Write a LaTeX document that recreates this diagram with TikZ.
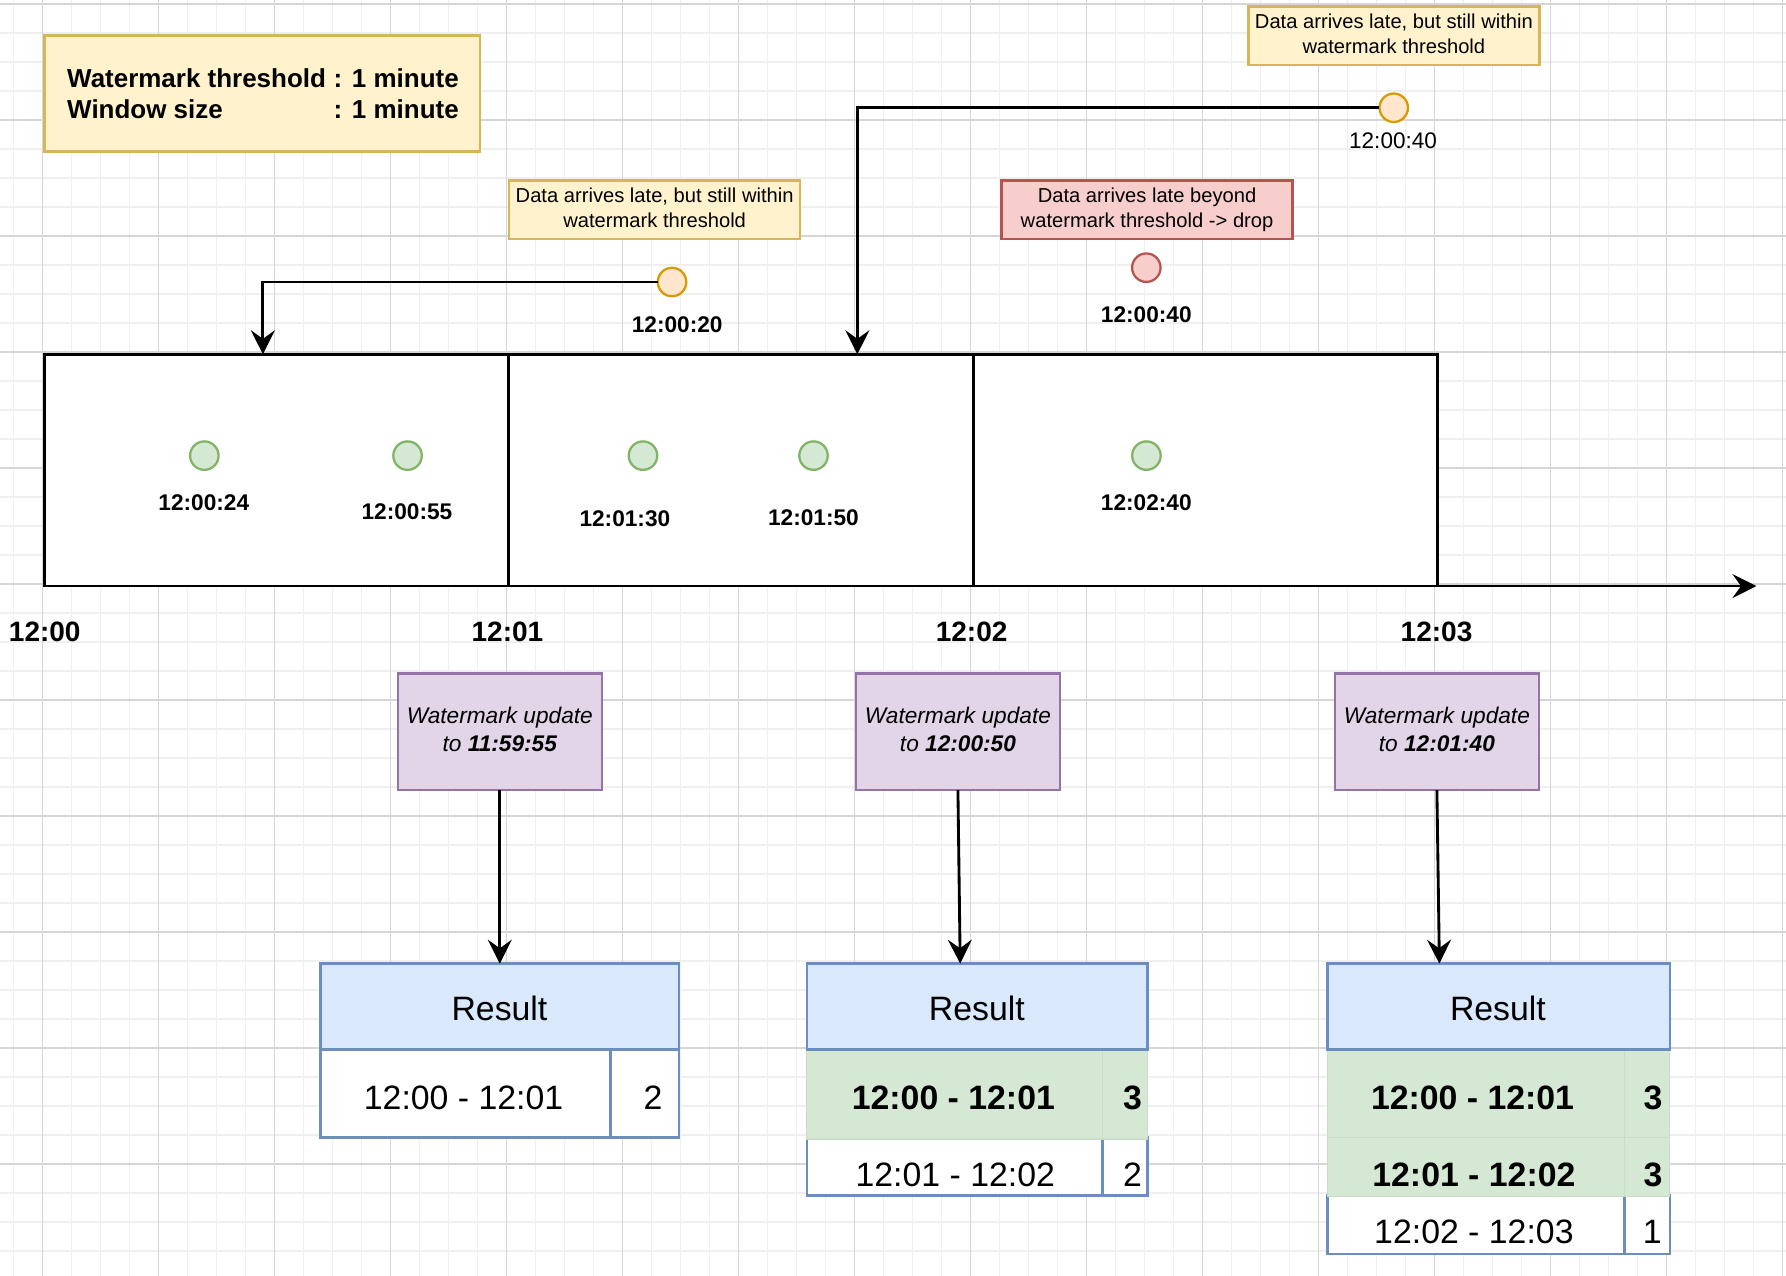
\documentclass[tikz,border=0pt]{standalone}
\usepackage{fontspec}
\setmainfont{Liberation Sans}
\usetikzlibrary{arrows.meta}
\definecolor{gridminor}{HTML}{EFEFEF}
\definecolor{gridmajor}{HTML}{D6D6D6}
\definecolor{yfill}{HTML}{FFF2CC}\definecolor{ystroke}{HTML}{D6B656}
\definecolor{rfill}{HTML}{F8CECC}\definecolor{rstroke}{HTML}{B85450}
\definecolor{ofill}{HTML}{FFE6CC}\definecolor{ostroke}{HTML}{D79B00}
\definecolor{gfill}{HTML}{D5E8D4}\definecolor{gstroke}{HTML}{82B366}
\definecolor{pfill}{HTML}{E1D5E7}\definecolor{pstroke}{HTML}{9673A6}
\definecolor{bfill}{HTML}{DAE8FC}\definecolor{bstroke}{HTML}{6C8EBF}
\definecolor{gline}{HTML}{C8DCC6}
\begin{document}
\begin{tikzpicture}[x=1pt,y=-1pt,
 shp/.style={draw, line width=2.2pt, inner sep=0pt, outer sep=0pt, anchor=north west},
 ybox/.style={shp, draw=ystroke, fill=yfill},
 rbox/.style={shp, draw=rstroke, fill=rfill},
 pbox/.style={shp, draw=pstroke, fill=pfill, align=center, minimum width=179pt, minimum height=102.3pt, font={\fontsize{19.9}{24.3}\selectfont\itshape}},
 callout/.style={align=center, minimum width=255.5pt, minimum height=51.5pt, font={\fontsize{17.7}{22}\selectfont}},
 wbox/.style={draw=black, line width=2.5pt, fill=white, inner sep=0pt, outer sep=0pt, anchor=north west, minimum height=203.5pt},
 dot/.style={circle, line width=2pt, minimum size=25pt, inner sep=0pt, outer sep=0pt},
 odot/.style={dot, draw=ostroke, fill=ofill},
 rdot/.style={dot, draw=rstroke, fill=rfill},
 gdot/.style={dot, draw=gstroke, fill=gfill},
 txt/.style={anchor=base, inner sep=0pt, outer sep=0pt},
 lblb/.style={txt, font={\fontsize{19.9}{24}\selectfont\bfseries}},
 lblr/.style={txt, font={\fontsize{19.8}{24}\selectfont}},
 axl/.style={txt, font={\fontsize{24.6}{30}\selectfont\bfseries}},
 wmt/.style={anchor=base west, inner sep=0pt, outer sep=0pt, font={\fontsize{22.8}{27}\selectfont\bfseries}},
 tcell/.style={shp, draw=bstroke, fill=white},
 thead/.style={shp, draw=bstroke, fill=bfill, minimum height=75.5pt},
 gcell/.style={draw=gline, line width=1pt, fill=gfill, inner sep=0pt, outer sep=0pt, anchor=north west},
 tt/.style={txt, font={\fontsize{29.7}{36}\selectfont}},
 ttb/.style={txt, font={\fontsize{29.7}{36}\selectfont\bfseries}},
 conn/.style={line width=2.5pt, -{Stealth[length=21pt,width=21pt,inset=7.5pt]}},
]
\useasboundingbox (0,0) rectangle (1568,1120);
\fill[white] (0,0) rectangle (1568,1120);
% grid
\foreach \k in {0,...,61}{\pgfmathsetmacro\xx{11.54+25.46*\k}\draw[gridminor, line width=1pt] (\xx,0) -- (\xx,1120);}
\foreach \k in {0,...,43}{\pgfmathsetmacro\yy{3.5+25.46*\k}\draw[gridminor, line width=1pt] (0,\yy) -- (1568,\yy);}
\foreach \k in {1,5,...,61}{\pgfmathsetmacro\xx{11.54+25.46*\k}\draw[gridmajor, line width=1pt] (\xx,0) -- (\xx,1120);}
\foreach \k in {0,4,...,40}{\pgfmathsetmacro\yy{3.5+25.46*\k}\draw[gridmajor, line width=1pt] (0,\yy) -- (1568,\yy);}

% legend box
\node[ybox, minimum width=382.5pt, minimum height=102pt] (wm) at (39,31) {};
\node[wmt] (wm1a) at (59,76.8) {Watermark threshold};
\node[wmt] (wm1b) at (293,76.8) {: 1 minute};
\node[wmt] (wm2a) at (59,104) {Window size};
\node[wmt] (wm2b) at (293,104) {: 1 minute};

% callouts
\node[ybox, callout] (cb1) at (447,158.5) {\strut Data arrives late, but still within\\\strut watermark threshold};
\node[ybox, callout] (cb2) at (1096,5.5) {\strut Data arrives late, but still within\\\strut watermark threshold};
\node[rbox, callout] (cb3) at (879.3,158.5) {\strut Data arrives late beyond\\\strut watermark threshold -> drop};

% windows
\node[wbox, minimum width=407.5pt] (win1) at (39,311) {};
\node[wbox, minimum width=407.8pt] (win2) at (446.5,311) {};
\node[wbox, minimum width=407.7pt] (win3) at (854.3,311) {};
\coordinate (axend) at (1542,514.5);
\draw[conn] (win1.south west) -- (axend);

% late events
\node[odot] (o1) at (590,247.6) {};
\node[lblb] (o1l) at (594.5,291.5) {12:00:20};
\node[odot] (o2) at (1223.6,94.6) {};
\node[lblr] (o2l) at (1223,130.4) {12:00:40};
\node[rdot] (rd) at (1006.4,235) {};
\node[lblb] (rdl) at (1006.4,282.7) {12:00:40};
\coordinate (in1) at (230.8,311);
\coordinate (in2) at (752.7,311);
\draw[conn] (o1.west) -| (in1);
\draw[conn] (o2.west) -| (in2);

% events in windows
\node[gdot] (g1) at (179.4,400) {};
\node[lblb] (g1l) at (178.9,448.5) {12:00:24};
\node[gdot] (g2) at (357.8,400) {};
\node[lblb] (g2l) at (357.3,456) {12:00:55};
\node[gdot] (g3) at (564.5,400) {};
\node[lblb] (g3l) at (548.6,462) {12:01:30};
\node[gdot] (g4) at (714.2,400) {};
\node[lblb] (g4l) at (714.2,461.4) {12:01:50};
\node[gdot] (g5) at (1006.5,400) {};
\node[lblb] (g5l) at (1006.4,448) {12:02:40};

% axis labels
\node[axl] (t0) at (39.3,563) {12:00};
\node[axl] (t1) at (445.5,563) {12:01};
\node[axl] (t2) at (853,563) {12:02};
\node[axl] (t3) at (1261.2,563) {12:03};

% watermark updates
\node[pbox] (pu1) at (349.3,591.3) {\strut Watermark update\\\strut to \textbf{11:59:55}};
\node[pbox] (pu2) at (751.5,591.3) {\strut Watermark update\\\strut to \textbf{12:00:50}};
\node[pbox] (pu3) at (1172,591.3) {\strut Watermark update\\\strut to \textbf{12:01:40}};

% result table 1
\node[tcell, minimum width=254.5pt, minimum height=77.1pt] (r1a) at (281.5,921.5) {};
\node[tcell, minimum width=60pt, minimum height=77.1pt] (r1b) at (536,921.5) {};
\node[thead, minimum width=314.5pt] (r1h) at (281.5,846) {};
\node[tt] (r1ht) at (438.5,896) {Result};
\node[tt] (r1at) at (407,974) {12:00 - 12:01};
\node[tt] (r1bt) at (573.4,974) {2};

% result table 2
\node[tcell, minimum width=259.6pt, minimum height=50.8pt] (r2c) at (708.4,998.6) {};
\node[tcell, minimum width=39.3pt, minimum height=50.8pt] (r2d) at (968,998.6) {};
\node[gcell, minimum width=259.6pt, minimum height=78.4pt] (r2a) at (708.4,921.5) {};
\node[gcell, minimum width=39.3pt, minimum height=78.4pt] (r2b) at (968,921.5) {};
\node[thead, minimum width=298.9pt] (r2h) at (708.4,846) {};
\node[tt] (r2ht) at (857.6,896) {Result};
\node[ttb] (r2at) at (837,974) {12:00 - 12:01};
\node[ttb] (r2bt) at (994.2,974) {3};
\node[tt] (r2ct) at (838.7,1042) {12:01 - 12:02};
\node[tt] (r2dt) at (994.2,1042) {2};

% result table 3
\node[tcell, minimum width=260.4pt, minimum height=51.3pt] (r3e) at (1165.6,1049.5) {};
\node[tcell, minimum width=40pt, minimum height=51.3pt] (r3f) at (1426,1049.5) {};
\node[gcell, minimum width=260.4pt, minimum height=77pt] (r3a) at (1165.6,921.5) {};
\node[gcell, minimum width=40pt, minimum height=77pt] (r3b) at (1426,921.5) {};
\node[gcell, minimum width=260.4pt, minimum height=52.3pt] (r3c) at (1165.6,998.5) {};
\node[gcell, minimum width=40pt, minimum height=52.3pt] (r3d) at (1426,998.5) {};
\node[thead, minimum width=300.4pt] (r3h) at (1165.6,846) {};
\node[tt] (r3ht) at (1315.1,896) {Result};
\node[ttb] (r3at) at (1292.8,974.2) {12:00 - 12:01};
\node[ttb] (r3bt) at (1451.2,974.2) {3};
\node[ttb] (r3ct) at (1294,1041.6) {12:01 - 12:02};
\node[ttb] (r3dt) at (1451.2,1041.6) {3};
\node[tt] (r3et) at (1294,1092) {12:02 - 12:03};
\node[tt] (r3ft) at (1450.5,1092) {1};

% update arrows
\coordinate (ri2) at (843,846);
\coordinate (ri3) at (1263.7,846);
\draw[conn] (pu1.south) -- (pu1.south |- r1h.north);
\draw[conn] (pu2.south) -- (ri2);
\draw[conn] (pu3.south) -- (ri3);
\end{tikzpicture}
\end{document}
